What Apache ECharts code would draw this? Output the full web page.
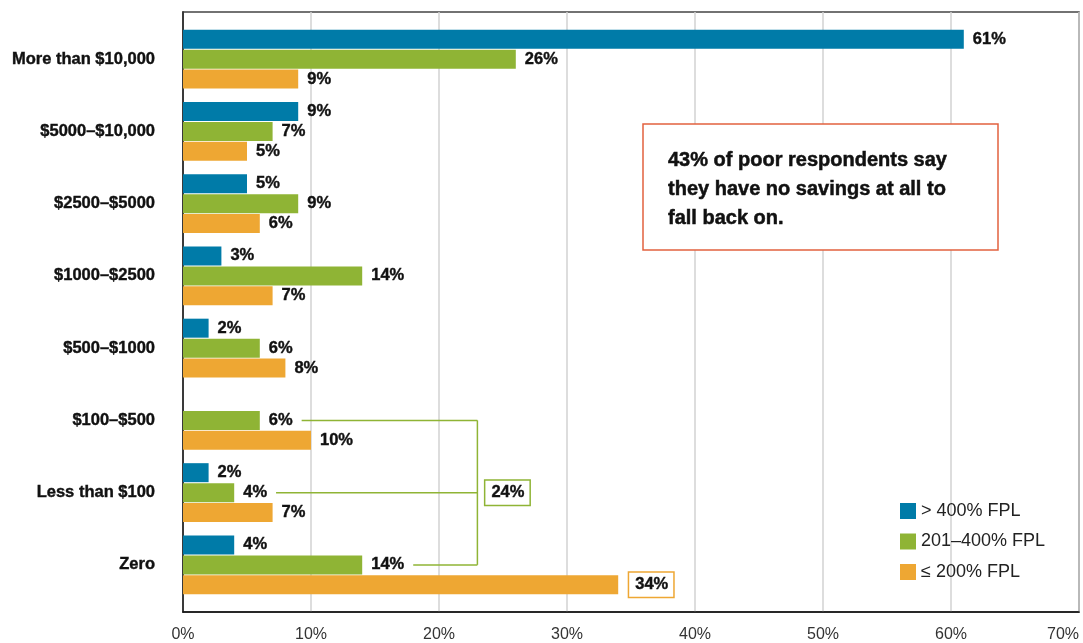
<!DOCTYPE html>
<html>
<head>
<meta charset="utf-8">
<script src="https://cdn.jsdelivr.net/npm/echarts@6/dist/echarts.min.js"></script>
<style>
  html, body { margin: 0; padding: 0; background: #fff; }
  #chart { width: 1083px; height: 643px; }
</style>
</head>
<body>
<div id="chart"></div>
<script>
// Savings cushion by household income relative to the federal poverty line
const categories = ['More than $10,000', '$5000–$10,000', '$2500–$5000', '$1000–$2500',
                    '$500–$1000', '$100–$500', 'Less than $100', 'Zero'];
const above400 = [61, 9, 5, 3, 2, null, 2, 4];
const from201to400 = [26, 7, 9, 14, 6, 6, 4, 14];
const upTo200 = [9, 5, 6, 7, 8, 10, 7, 34];
const seriesNames = ['> 400% FPL', '201–400% FPL', '≤ 200% FPL'];
const xTicks = [0, 10, 20, 30, 40, 50, 60, 70];
const calloutText = '43% of poor respondents say\nthey have no savings at all to\nfall back on.';
// 201–400% bars grouped by the bracket, and the category whose ≤200% bar is boxed
const bracketCats = ['$100–$500', 'Less than $100', 'Zero'];
const boxedCat = 'Zero';

const FONT = '"Liberation Sans", Arial, sans-serif';
const COLORS = ['#007BA8', '#8FB435', '#EEA733'];
const BRACKET_AT = 23;        // x position of the bracket's spine, in axis units
const LABEL_SIZE = 16.5;
const INK = '#111';
// a hairline outline makes the bold labels a little heavier
const heavy = { textBorderColor: INK, textBorderWidth: 0.4 };

const chart = echarts.init(document.getElementById('chart'), null, { renderer: 'canvas' });

const valueLabel = Object.assign({
  show: true, position: 'right', distance: 9, formatter: '{c}%',
  fontFamily: FONT, fontWeight: 'bold', fontSize: LABEL_SIZE, color: INK
}, heavy);

const boxedIdx = categories.indexOf(boxedCat);
const orangeData = upTo200.map((v, i) => i === boxedIdx
  ? { value: v, label: { borderColor: COLORS[2], borderWidth: 1.5, padding: [4, 5, 3, 6],
                         distance: 11, backgroundColor: '#fff' } }
  : v);

const seriesData = [above400, from201to400, orangeData];

chart.setOption({
  animation: false,
  backgroundColor: '#fff',
  textStyle: { fontFamily: FONT },
  grid: [
    // outer frame with the full-height gridlines
    { left: 183, right: 4, top: 12, bottom: 31, outerBoundsMode: 'none', containLabel: false,
      show: true, borderColor: '#444', borderWidth: 1.5, backgroundColor: 'transparent' },
    // bar area
    { left: 183, right: 4, top: 23, height: 578, outerBoundsMode: 'none', containLabel: false }
  ],
  xAxis: [
    {
      gridIndex: 0, type: 'value', min: xTicks[0], max: xTicks[xTicks.length - 1], interval: 10,
      axisLine: { show: true, lineStyle: { color: INK, width: 1.5 } },
      axisTick: { show: false },
      splitLine: { show: true, lineStyle: { color: '#d2d2d2', width: 1.5 } },
      axisLabel: { formatter: '{value}%', fontFamily: FONT, fontSize: 16, color: '#333', margin: 15,
                   alignMaxLabel: 'right' }
    },
    { gridIndex: 1, type: 'value', min: xTicks[0], max: xTicks[xTicks.length - 1], show: false }
  ],
  yAxis: [
    {
      gridIndex: 0, type: 'value', min: 0, max: 1,
      axisLine: { show: true, onZero: false, lineStyle: { color: INK, width: 1.5 } },
      axisTick: { show: false }, axisLabel: { show: false }, splitLine: { show: false }
    },
    {
      gridIndex: 1, type: 'category', data: categories, inverse: true,
      axisLine: { show: false }, axisTick: { show: false }, splitLine: { show: false },
      axisLabel: Object.assign({ fontFamily: FONT, fontWeight: 'bold', fontSize: LABEL_SIZE,
                                 color: INK, margin: 28 }, heavy)
    }
  ],
  legend: {
    orient: 'vertical', left: 895, top: 497, icon: 'rect',
    itemWidth: 16, itemHeight: 16, itemGap: 12.5,
    textStyle: { fontFamily: FONT, fontSize: 18, color: '#222' },
    data: seriesNames
  },
  series: seriesNames.map((name, k) => ({
    name, type: 'bar', xAxisIndex: 1, yAxisIndex: 1,
    barWidth: 19, barGap: '5%',
    itemStyle: { color: COLORS[k] },
    label: valueLabel,
    data: seriesData[k]
  }))
});

// Bracket linking the 201–400% bars of the lowest savings groups
const gData = chart.getModel().getSeriesByIndex(1).getData();
const ctx = document.createElement('canvas').getContext('2d');
ctx.font = 'bold ' + LABEL_SIZE + 'px ' + FONT;
const spineX = chart.convertToPixel({ xAxisIndex: 1 }, BRACKET_AT);
let bracketSum = 0;
const arms = bracketCats.map(c => {
  const i = categories.indexOf(c);
  const lay = gData.getItemLayout(i);
  bracketSum += from201to400[i];
  const w = ctx.measureText(from201to400[i] + '%').width;
  return { x: lay.x + lay.width + 9 + w + 9, y: lay.y + lay.height / 2 };
});
const lineStyle = { stroke: COLORS[1], lineWidth: 1.5, fill: null };
const graphics = arms.map(a => ({
  type: 'polyline', z: 50, silent: true,
  shape: { points: [[a.x, a.y], [spineX, a.y]] }, style: lineStyle
}));
graphics.push({
  type: 'polyline', z: 50, silent: true,
  shape: { points: [[spineX, arms[0].y], [spineX, arms[arms.length - 1].y]] }, style: lineStyle
});
graphics.push({
  type: 'text', z: 51, silent: true,
  style: {
    text: bracketSum + '%', x: spineX + 8, y: arms[1].y, verticalAlign: 'middle',
    font: 'bold ' + LABEL_SIZE + 'px ' + FONT, fill: INK, stroke: INK, lineWidth: 0.4,
    backgroundColor: '#fff', borderColor: COLORS[1], borderWidth: 1.5, padding: [4, 5, 3, 6]
  }
});
// Callout box
graphics.push({
  type: 'group', z: 60, silent: true,
  children: [
    { type: 'rect', shape: { x: 643, y: 124, width: 355, height: 126 },
      style: { fill: '#fff', stroke: '#E2613F', lineWidth: 1.5 } },
    { type: 'text', style: { text: calloutText, x: 668, y: 146, font: 'bold 20px ' + FONT,
      lineHeight: 29, fill: INK, stroke: INK, lineWidth: 0.5 } }
  ]
});
chart.setOption({ graphic: graphics });
</script>
</body>
</html>
